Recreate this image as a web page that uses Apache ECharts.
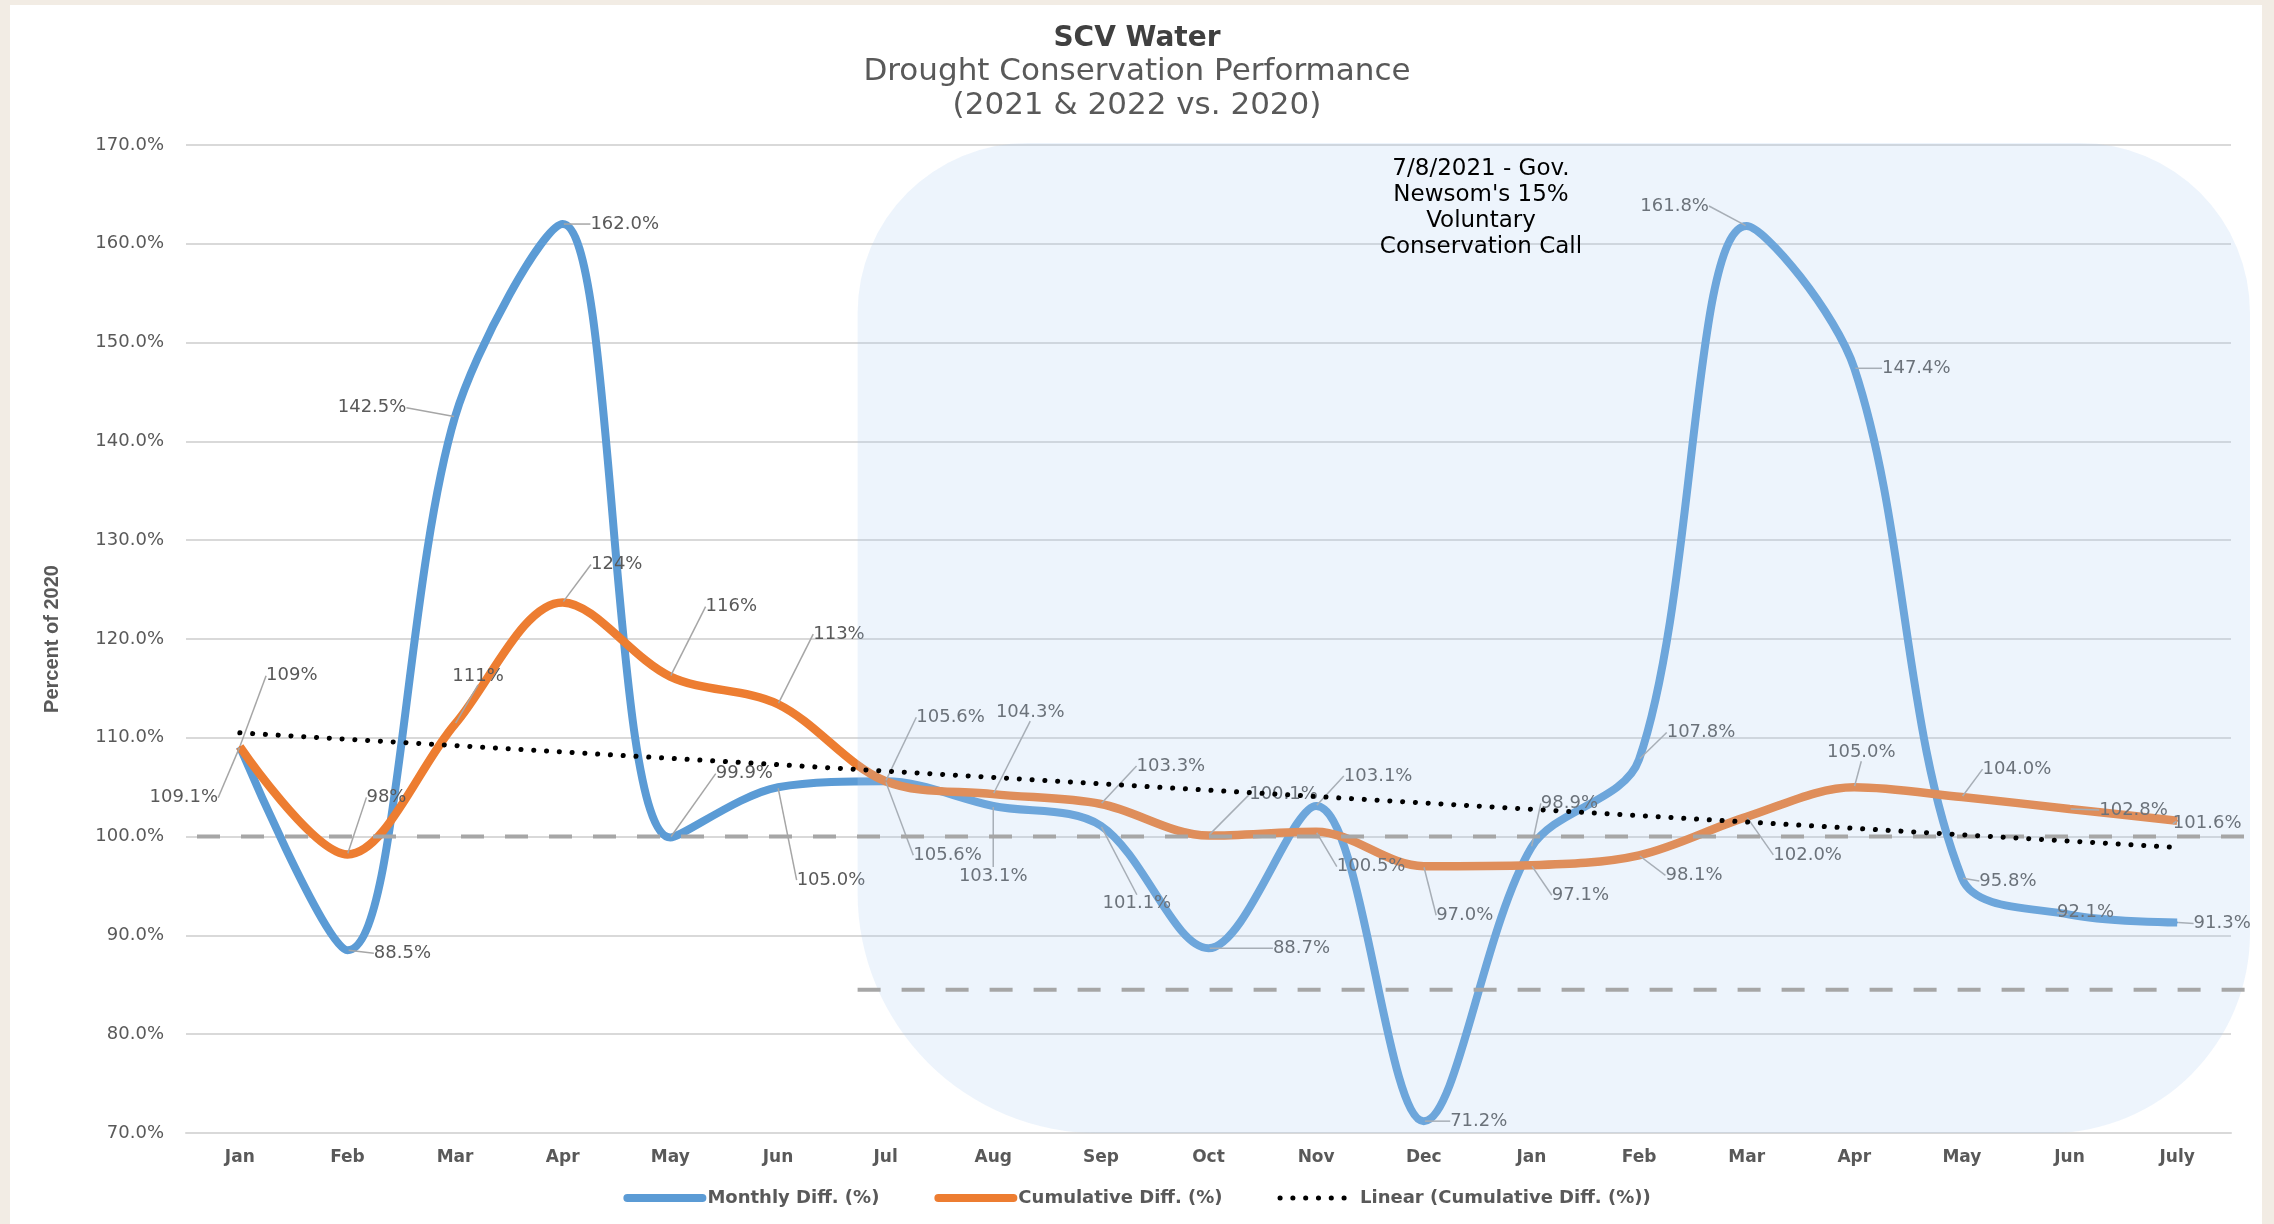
<!DOCTYPE html>
<html lang="en">
<head>
  <meta charset="UTF-8">
  <title>SCV Water - Drought Conservation Performance</title>
  <script src="https://cdn.jsdelivr.net/npm/echarts@6/dist/echarts.min.js"></script>
  <style>
    html, body { margin: 0; padding: 0; background: #fff; }
    #chart { position: absolute; left: 0; top: 0; width: 2274px; height: 1224px; }
    #frame {
      position: absolute; left: 0; top: 0; width: 2274px; height: 1224px;
      box-sizing: border-box; pointer-events: none;
      border-left: 10px solid #F2ECE4; border-top: 5px solid #F2ECE4; border-right: 12px solid #F2ECE4;
    }
  </style>
</head>
<body>
<div id="chart"></div>
<div id="frame"></div>
<script>
  // months on the x axis (2021 then 2022)
  var months = ['Jan', 'Feb', 'Mar', 'Apr', 'May', 'Jun', 'Jul', 'Aug', 'Sep', 'Oct', 'Nov', 'Dec',
                'Jan', 'Feb', 'Mar', 'Apr', 'May', 'Jun', 'July'];

  // Monthly Diff. (%)
  var monthlyDiff = [109.1, 88.5, 142.5, 162.0, 99.9, 105.0, 105.6, 103.1, 101.1, 88.7,
                     103.1, 71.2, 98.9, 107.8, 161.8, 147.4, 95.8, 92.1, 91.3];

  // Cumulative Diff. (%)
  var cumulativeDiff = [109.1, 98.2, 111.4, 123.7, 116.2, 113.4, 105.6, 104.3, 103.3, 100.1,
                        100.5, 97.0, 97.1, 98.1, 102.0, 105.0, 104.0, 102.8, 101.6];
  var wholeLabelsUntil = 6; // first labels of the cumulative series show no decimals

  // Linear trend of the cumulative series, read at both ends
  var trendStart = 110.5;
  var trendEnd = 98.9;

  // reference lines
  var baseline = 100;
  var goalLine = 84.5;

  var yTicks = { min: 70, max: 170, interval: 10 };

  // label offsets (dx, dy) from each point, px
  var blueOffsets = [[-56, 51], [55, 3], [-83, -9], [62, 0], [74, -64], [53, 93], [62, 74], [0, 70],
                     [36, 78], [93, 0], [62, -30], [55, 0], [38, -44], [62, -27], [-72, -20],
                     [62, 0], [46, 3], [16, -2], [45, 1]];
  var orangeOffsets = [[52, -71], [39, -57], [23, -48], [54, -38], [61, -70], [61, -70], [65, -64],
                       [37, -82], [70, -38], [75, -41], [55, 35], [41, 49], [49, 30], [55, 20],
                       [61, 38], [7, -35], [55, -28], [64, 1], [30, 3]];

  var trendData = months.map(function (m, i) {
    if (i === 0) return trendStart;
    if (i === months.length - 1) return trendEnd;
    return null;
  });

  var font = 'DejaVu Sans';
  var grey = '#595959';
  var blue = '#5B9BD5';
  var orange = '#ED7D31';
  var trendStyle = { color: '#000', width: 5, type: [0.1, 12.7], cap: 'round' };

  var labelStyle = {
    show: true,
    position: 'inside',
    fontFamily: font,
    fontSize: 18,
    color: grey
  };

  var chart = echarts.init(document.getElementById('chart'));

  var option = {
    animation: false,
    backgroundColor: '#fff',
    title: {
      text: 'SCV Water',
      subtext: 'Drought Conservation Performance\n(2021 & 2022 vs. 2020)',
      left: 'center',
      top: 20,
      itemGap: 2,
      textStyle: { fontFamily: font, fontSize: 28, fontWeight: 'bold', color: '#404040' },
      subtextStyle: { fontFamily: font, fontSize: 31, color: grey, lineHeight: 34 }
    },
    grid: { left: 186, right: 43, top: 145, bottom: 91 },
    legend: {
      top: 1184,
      left: 'center',
      itemWidth: 75,
      itemHeight: 2,
      itemGap: 55,
      textStyle: { fontFamily: font, fontSize: 18, fontWeight: 'bold', color: grey },
      data: [
        { name: 'Monthly Diff. (%)', lineStyle: { color: blue, width: 8, cap: 'round' } },
        { name: 'Cumulative Diff. (%)', lineStyle: { color: orange, width: 8, cap: 'round' } },
        { name: 'Linear (Cumulative Diff. (%))', lineStyle: trendStyle }
      ]
    },
    xAxis: {
      type: 'category',
      data: months,
      axisLine: { lineStyle: { color: '#D9D9D9', width: 2 } },
      axisTick: { show: false },
      axisLabel: { interval: 0, margin: 16, fontFamily: font, fontSize: 17, fontWeight: 'bold', color: grey }
    },
    yAxis: {
      type: 'value',
      min: yTicks.min,
      max: yTicks.max,
      interval: yTicks.interval,
      name: 'Percent of 2020',
      nameLocation: 'middle',
      nameGap: 124,
      nameTextStyle: { fontFamily: 'Liberation Sans Narrow, Liberation Sans', fontSize: 20, fontWeight: 'bold', color: grey },
      axisLine: { show: false },
      axisTick: { show: false },
      axisLabel: {
        margin: 22, fontFamily: font, fontSize: 18, color: grey,
        formatter: function (v) { return v.toFixed(1) + '%'; }
      },
      splitLine: { lineStyle: { color: '#D9D9D9', width: 2 } }
    },
    series: [
      {
        name: 'Monthly Diff. (%)',
        type: 'line',
        data: monthlyDiff,
        smooth: 0.33,
        z: 2,
        symbol: 'circle',
        symbolSize: 2,
        showAllSymbol: true,
        itemStyle: { color: blue },
        lineStyle: { color: blue, width: 8 },
        label: Object.assign({}, labelStyle, {
          formatter: function (p) { return p.value.toFixed(1) + '%'; }
        }),
        labelLine: { show: true, lineStyle: { color: '#A6A6A6', width: 1.5 } },
        labelLayout: function (p) {
          var o = blueOffsets[p.dataIndex];
          return { dx: o[0], dy: o[1] };
        },
        emphasis: { disabled: true }
      },
      {
        name: 'Cumulative Diff. (%)',
        type: 'line',
        data: cumulativeDiff,
        smooth: 0.33,
        z: 2,
        symbol: 'circle',
        symbolSize: 2,
        showAllSymbol: true,
        itemStyle: { color: orange },
        lineStyle: { color: orange, width: 8.5 },
        label: Object.assign({}, labelStyle, {
          formatter: function (p) {
            return p.dataIndex < wholeLabelsUntil ? p.value.toFixed(0) + '%' : p.value.toFixed(1) + '%';
          }
        }),
        labelLine: { show: true, lineStyle: { color: '#A6A6A6', width: 1.5 } },
        labelLayout: function (p) {
          var o = orangeOffsets[p.dataIndex];
          return { dx: o[0], dy: o[1] };
        },
        emphasis: { disabled: true }
      },
      {
        name: 'Linear (Cumulative Diff. (%))',
        type: 'line',
        data: trendData,
        connectNulls: true,
        symbol: 'none',
        z: 5,
        itemStyle: { color: '#000' },
        lineStyle: trendStyle,
        emphasis: { disabled: true }
      }
    ]
  };

  chart.setOption(option);

  // shaded period after the 7/8/2021 call, and the dashed reference lines
  var yTop = chart.convertToPixel({ yAxisIndex: 0 }, yTicks.max);
  var yBottom = chart.convertToPixel({ yAxisIndex: 0 }, yTicks.min);
  var xJul = chart.convertToPixel({ xAxisIndex: 0 }, 6);
  var yBase = chart.convertToPixel({ yAxisIndex: 0 }, baseline);
  var yGoal = chart.convertToPixel({ yAxisIndex: 0 }, goalLine);
  var regionLeft = xJul - 28;
  var regionRight = 2250;
  var dash = { stroke: '#A6A6A6', lineWidth: 4, lineDash: [23, 21] };

  chart.setOption({
    graphic: [
      {
        type: 'rect', z: 3, silent: true,
        shape: { x: regionLeft, y: yTop - 2, width: regionRight - regionLeft, height: yBottom - yTop + 2, r: [170, 170, 200, 240] },
        style: { fill: 'rgba(171,207,241,0.22)' }
      },
      {
        type: 'line', z: 4, silent: true,
        shape: { x1: 197, y1: yBase, x2: regionRight, y2: yBase },
        style: dash
      },
      {
        type: 'line', z: 4, silent: true,
        shape: { x1: regionLeft, y1: yGoal, x2: regionRight, y2: yGoal },
        style: dash
      },
      {
        type: 'text', z: 6, silent: true,
        x: 1481, y: 156,
        style: {
          text: "7/8/2021 - Gov.\nNewsom's 15%\nVoluntary\nConservation Call",
          fill: '#000',
          font: '23px "DejaVu Sans"',
          textAlign: 'center',
          lineHeight: 26
        }
      }
    ]
  });
</script>
</body>
</html>
